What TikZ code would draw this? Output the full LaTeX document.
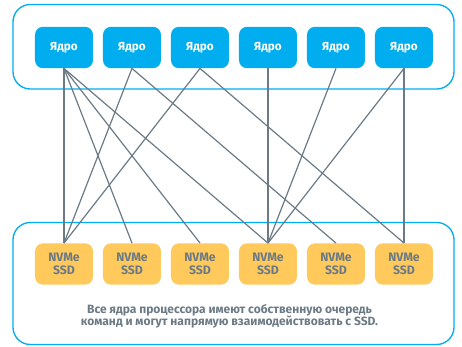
\documentclass[tikz,border=0pt]{standalone}
\usepackage{fontspec}
\setmainfont{Fira Sans}
\definecolor{coreblue}{HTML}{00AEEF}
\definecolor{ssdfill}{HTML}{FFC95C}
\definecolor{slate}{HTML}{6B7A84}
\tikzset{
  frame/.style={draw=coreblue, line width=1pt, rounded corners=13pt},
  corebox/.style={fill=coreblue, rounded corners=6pt, minimum width=43.5pt,
    minimum height=31pt, inner sep=0pt, text=white, font=\bfseries\fontsize{8.8}{10}\selectfont},
  ssdbox/.style={fill=ssdfill, rounded corners=6pt, minimum width=43.5pt,
    minimum height=31pt, inner sep=0pt, text=slate, align=center,
    font=\bfseries\fontsize{9.2}{10}\selectfont},
  link/.style={draw=slate, line width=0.9pt},
  caption/.style={text=slate, align=center, font=\bfseries\fontsize{9}{9.3}\selectfont}
}
\begin{document}
\begin{tikzpicture}[x=0.75pt, y=-0.75pt]
  \useasboundingbox (0,0) rectangle (462,347);
  % outer frames
  \draw[frame] (13,4.5) rectangle (454,89);
  \draw[frame] (13,222.5) rectangle (454,344.5);
  % cores and drives
  \foreach \i/\x in {1/64,2/132,3/200,4/268,5/336,6/404}{
    \node[corebox] (c\i) at (\x,47.5) {Ядро};
    \node[ssdbox] (s\i) at (\x,264) {NVMe\\SSD};
  }
  % queue connections
  \foreach \a/\b in {1/1,1/2,1/3,1/4,2/1,2/5,3/1,3/6,4/4,5/4,6/4,6/6}{
    \draw[link] (c\a.south) -- (s\b.north);
  }
  \node[caption] (cap) at (229.5,316.5) {Все ядра процессора имеют собственную очередь\\команд и могут напрямую взаимодействовать с SSD.};
\end{tikzpicture}
\end{document}
